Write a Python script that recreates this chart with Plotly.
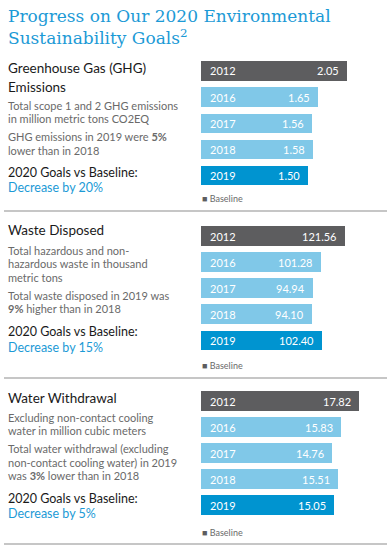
import plotly.graph_objects as go

W, H = 392, 552

years = ["2012", "2016", "2017", "2018", "2019"]
ghg = [2.05, 1.65, 1.56, 1.58, 1.50]
waste = [121.56, 101.28, 94.94, 94.10, 102.40]
water = [17.82, 15.83, 14.76, 15.51, 15.05]
value_labels_ghg = ["2.05", "1.65", "1.56", "1.58", "1.50"]
value_labels_waste = ["121.56", "101.28", "94.94", "94.10", "102.40"]
value_labels_water = ["17.82", "15.83", "14.76", "15.51", "15.05"]

title_text = "Progress on Our 2020 Environmental<br>Sustainability Goals<sup>2</sup>"

C_BASE = "#5d5d5f"
C_LIGHT = "#80c8e8"
C_2019 = "#0094d0"
C_BLUE = "#1c9ad6"
C_GRAY = "#6a6a6a"
C_BLACK = "#1a1a1a"
bar_colors = [C_BASE, C_LIGHT, C_LIGHT, C_LIGHT, C_2019]

SANS = "Lato, 'Noto Sans', sans-serif"

def py(px):
    return 1 - px / H

fig = go.Figure()

sections = [
    dict(vals=ghg, labels=value_labels_ghg, rng=191 / 71.1, top=57.8, bot=188.5, ax=""),
    dict(vals=waste, labels=value_labels_waste, rng=191 / 1.184, top=223.0, bot=353.3, ax="2"),
    dict(vals=water, labels=value_labels_water, rng=191 / 8.845, top=388.0, bot=518.0, ax="3"),
]

annotations = []
layout_axes = {}
for s in sections:
    xa = "x" + s["ax"]
    ya = "y" + s["ax"]
    fig.add_trace(go.Bar(
        x=s["vals"], y=years, orientation="h",
        marker=dict(color=bar_colors, line=dict(width=0)),
        width=0.75, xaxis=xa, yaxis=ya, hoverinfo="skip", showlegend=False,
    ))
    layout_axes["xaxis" + s["ax"]] = dict(
        domain=[201 / W, 1], range=[0, s["rng"]], visible=False, fixedrange=True,
        anchor=ya,
    )
    layout_axes["yaxis" + s["ax"]] = dict(
        domain=[py(s["bot"]), py(s["top"])], range=[4.5, -0.5], visible=False,
        type="category", categoryorder="array", categoryarray=years,
        fixedrange=True, anchor=xa,
    )
    for i, (yr, v, lab) in enumerate(zip(years, s["vals"], s["labels"])):
        annotations.append(dict(
            x=0, y=i, xref=xa, yref=ya, text=yr, showarrow=False,
            xanchor="left", yanchor="middle", xshift=7,
            font=dict(family=SANS, size=11, color="white"),
        ))
        annotations.append(dict(
            x=v, y=i, xref=xa, yref=ya, text=lab, showarrow=False,
            xanchor="right", yanchor="middle", xshift=-6,
            font=dict(family=SANS, size=11, color="white"),
        ))

# Title
annotations.append(dict(
    x=6 / W, y=py(4), xref="paper", yref="paper", text=title_text, showarrow=False,
    xanchor="left", yanchor="top", align="left",
    font=dict(family="'DejaVu Serif', serif", size=17, color=C_BLUE),
))

def txt(text, ypx, size, color):
    annotations.append(dict(
        x=6 / W, y=py(ypx), xref="paper", yref="paper", text=text, showarrow=False,
        xanchor="left", yanchor="middle", align="left",
        font=dict(family=SANS, size=size, color=color),
    ))

# GHG
txt("Greenhouse Gas (GHG)", 68, 13.5, C_BLACK)
txt("Emissions", 87, 13.5, C_BLACK)
txt("Total scope 1 and 2 GHG emissions", 106, 11, C_GRAY)
txt("in million metric tons CO2EQ", 119, 11, C_GRAY)
txt("GHG emissions in 2019 were <b>5%</b>", 136, 11, C_GRAY)
txt("lower than in 2018", 150, 11, C_GRAY)
txt("2020 Goals vs Baseline:", 172, 12.5, C_BLACK)
txt("Decrease by 20%", 188, 12.5, C_BLUE)

# Waste
txt("Waste Disposed", 230, 13.5, C_BLACK)
txt("Total hazardous and non-", 250, 11, C_GRAY)
txt("hazardous waste in thousand", 263, 11, C_GRAY)
txt("metric tons", 277, 11, C_GRAY)
txt("Total waste disposed in 2019 was", 295, 11, C_GRAY)
txt("<b>9%</b> higher than in 2018", 308, 11, C_GRAY)
txt("2020 Goals vs Baseline:", 331, 12.5, C_BLACK)
txt("Decrease by 15%", 347, 12.5, C_BLUE)

# Water
txt("Water Withdrawal", 398, 13.5, C_BLACK)
txt("Excluding non-contact cooling", 417, 11, C_GRAY)
txt("water in million cubic meters", 430, 11, C_GRAY)
txt("Total water withdrawal (excluding", 448, 11, C_GRAY)
txt("non-contact cooling water) in 2019", 462, 11, C_GRAY)
txt("was <b>3%</b> lower than in 2018", 475, 11, C_GRAY)
txt("2020 Goals vs Baseline:", 498, 12.5, C_BLACK)
txt("Decrease by 5%", 513, 12.5, C_BLUE)

# Baseline legends
for ypx in [199, 366, 532]:
    annotations.append(dict(
        x=200 / W, y=py(ypx), xref="paper", yref="paper",
        text=f"<span style='color:{C_BASE}'>■</span> Baseline", showarrow=False,
        xanchor="left", yanchor="middle",
        font=dict(family=SANS, size=9, color=C_GRAY),
    ))

shapes = []
for ypx in [211, 378, 544]:
    shapes.append(dict(
        type="line", xref="paper", yref="paper",
        x0=4 / W, x1=387 / W, y0=py(ypx), y1=py(ypx),
        line=dict(color="#b3b3b3", width=1.5),
    ))

fig.update_layout(
    width=W, height=H, margin=dict(l=0, r=0, t=0, b=0),
    paper_bgcolor="white", plot_bgcolor="white",
    annotations=annotations, shapes=shapes, showlegend=False,
    bargap=0, **layout_axes,
)

fig.write_html(
    "out.html",
    config={"displayModeBar": False},
    post_script="document.body.style.margin='0';document.body.style.padding='0';",
)
